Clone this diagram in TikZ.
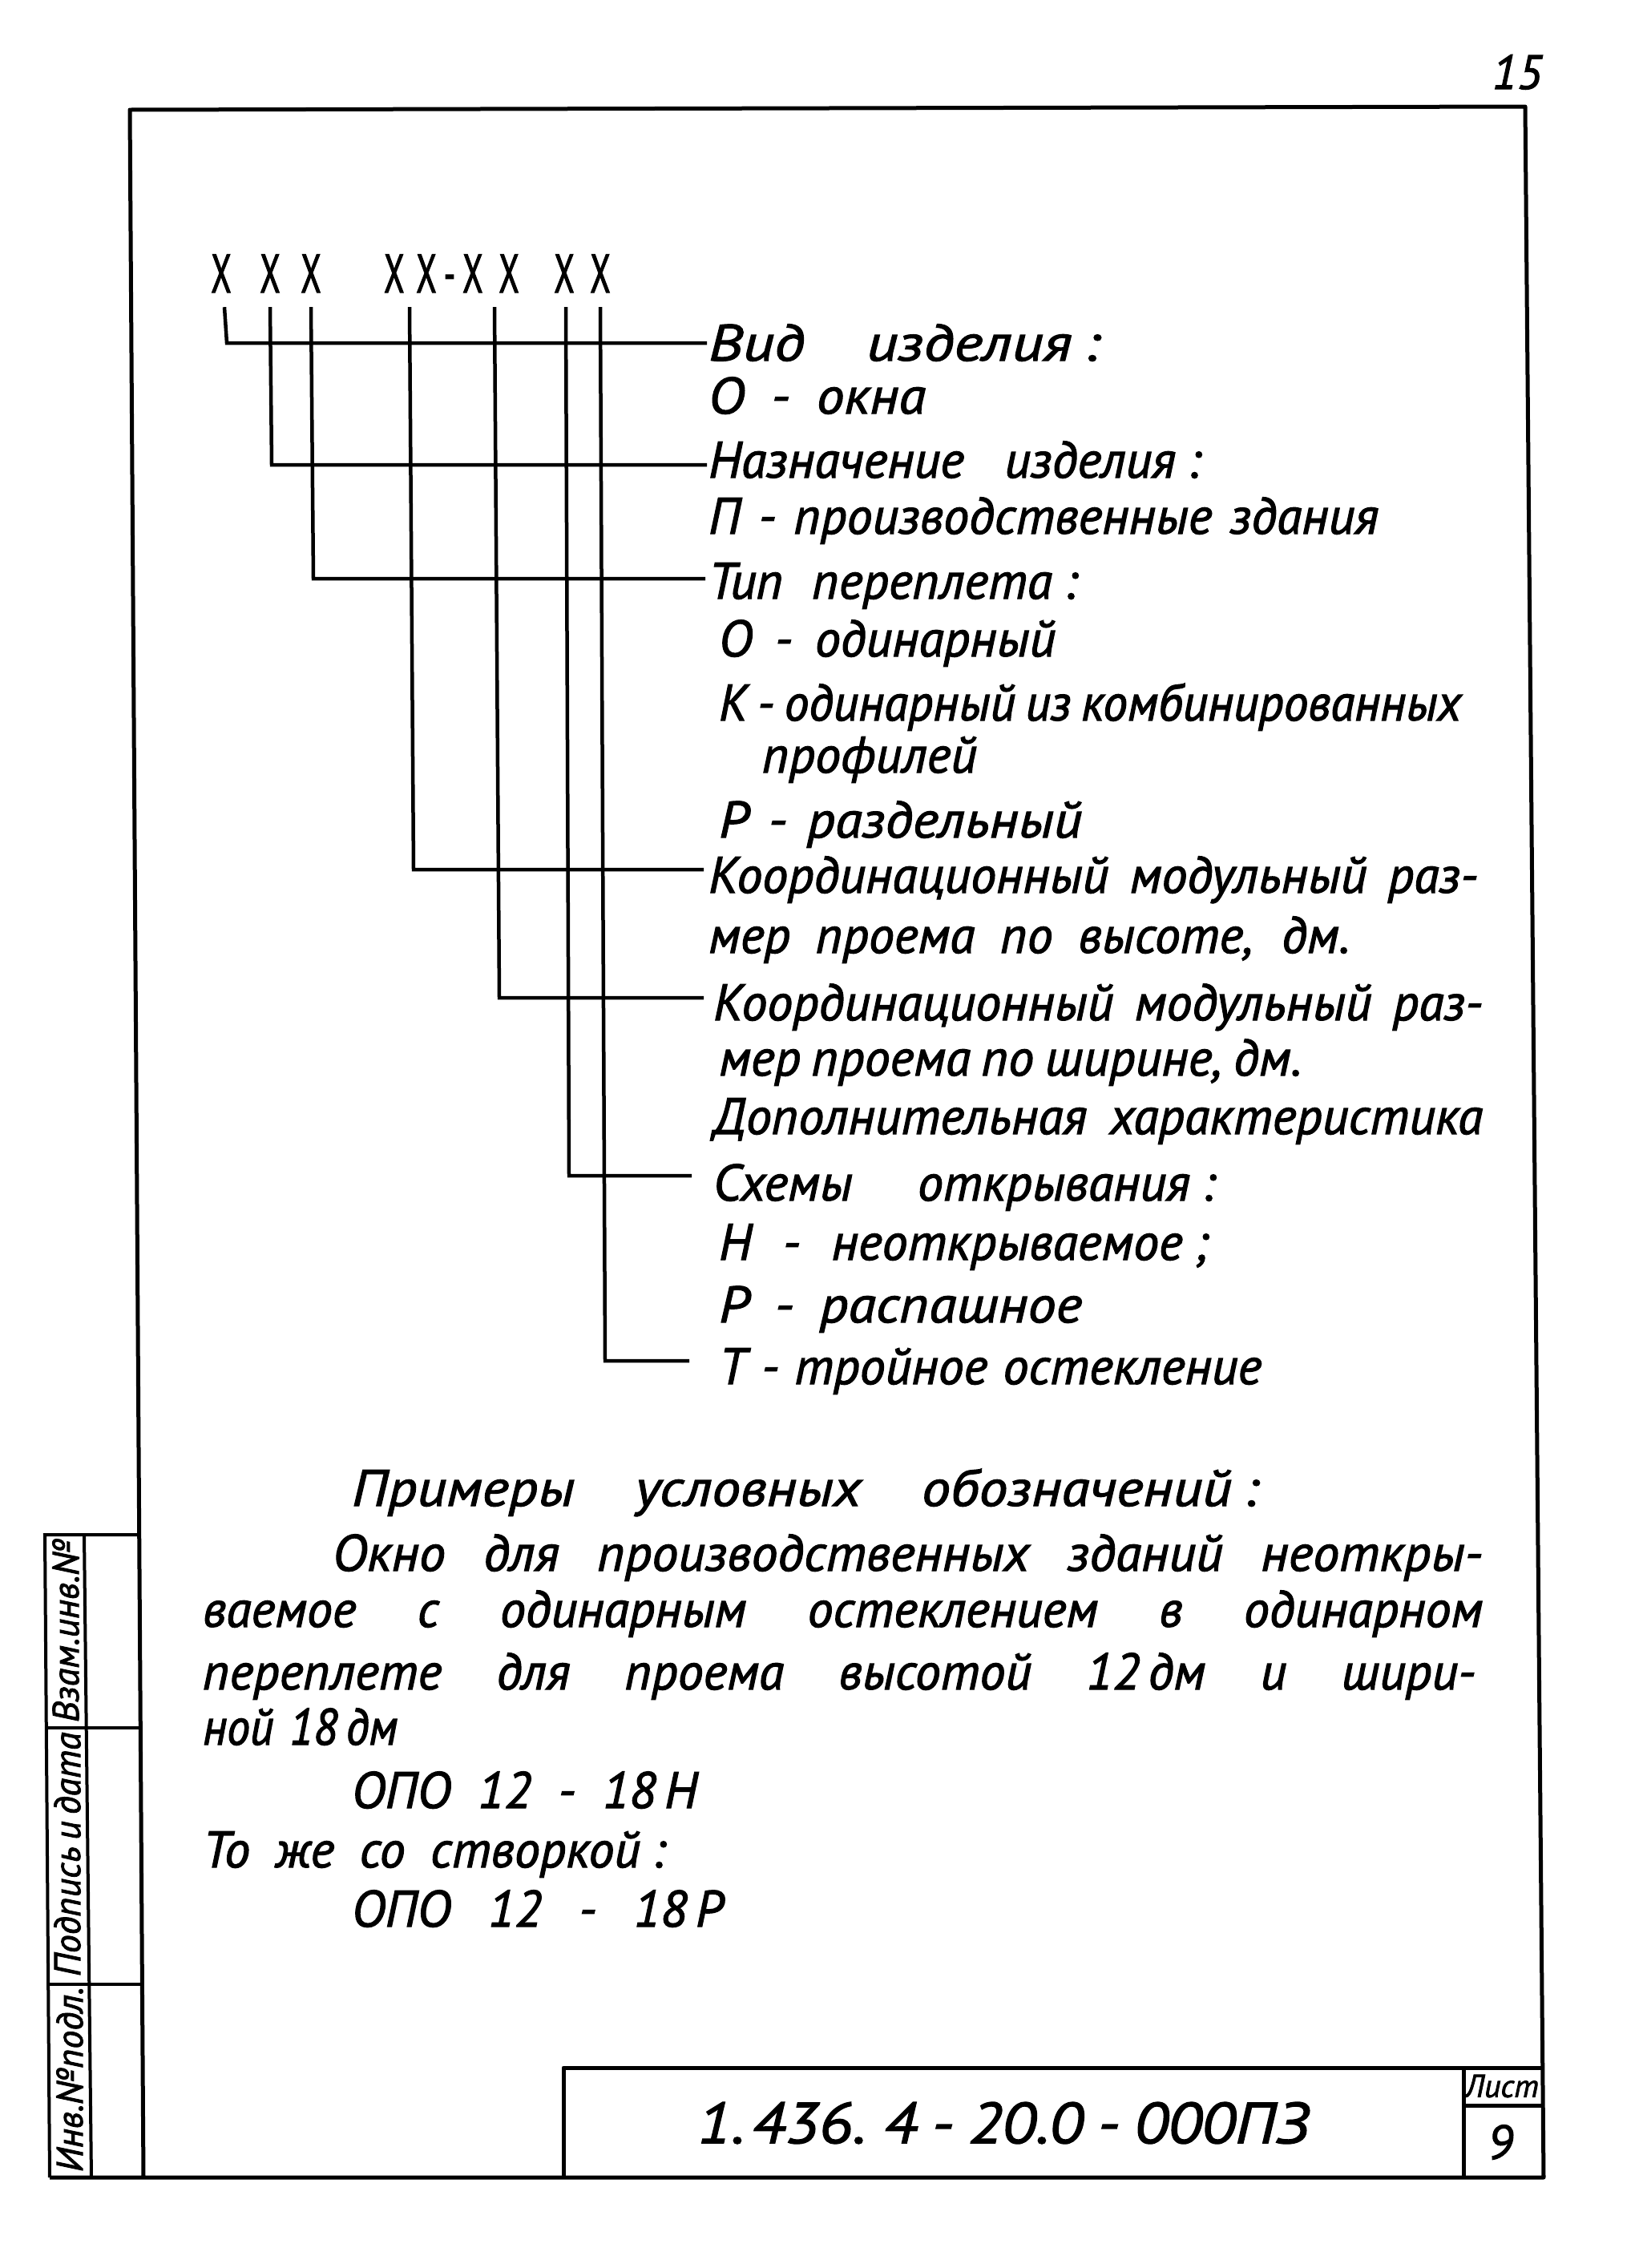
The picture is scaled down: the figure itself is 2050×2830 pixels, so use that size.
\documentclass[tikz,border=0pt]{standalone}
\usepackage{fontspec}
\setmainfont{PT Sans}[ItalicFeatures={FakeBold=1.8}]
\newfontfamily\xfont{PT Sans}[FakeStretch=0.6,FakeBold=1.5]
\newcommand\fs{\hspace{0.22em}}
\begin{document}
\begin{tikzpicture}[x=1pt,y=-1pt,
  frameline/.style={line width=5pt,line join=round},
  leader/.style={line width=4.5pt,line join=miter},
  thinbox/.style={line width=4pt},
  txt/.style={anchor=base west,inner sep=0pt,font=\fontsize{64}{70}\selectfont\itshape},
  xch/.style={anchor=base,inner sep=0pt,font=\fontsize{68}{70}\xfont},
  stamp/.style={inner sep=0pt,rotate=90,font=\fontsize{46}{48}\selectfont\itshape}]
\newcommand\tline[6][1]{\node[txt] (#2) at (#3,#4) {\addfontfeatures{FakeStretch=#1}\makebox[#5pt][s]{#6}};}
\useasboundingbox (0,0) rectangle (2050,2830);
\fill[white] (0,0) rectangle (2050,2830);
% page number
\node[inner sep=0pt,font=\fontsize{60}{64}\selectfont\itshape] (pg) at (1893,90) {15};
% frame
\draw[frameline] (179,2717) -- (162,137) -- (1903,133) -- (1926,2717) -- (62,2717);
% side stamp
\draw[thinbox] (175,1915) -- (56,1915) -- (62,2717);
\draw[thinbox] (105,1915) -- (114,2717);
\draw[thinbox] (57,2156) -- (177,2156);
\draw[thinbox] (59,2476) -- (178,2476);
\node[stamp] (s1) at (82,2035) {\makebox[228pt][s]{Взам.инв.№}};
\node[stamp] (s2) at (84,2316) {\makebox[300pt][s]{Подпись и дата}};
\node[stamp] (s3) at (87,2596) {\makebox[228pt][s]{Инв.№подл.}};
% title block
\draw[frameline] (703,2717) -- (703,2580) -- (1926,2580);
\draw[frameline] (1826,2580) -- (1826,2717);
\draw[frameline] (1826,2627) -- (1926,2627);
\node[inner sep=0pt,font=\fontsize{72}{74}\selectfont\itshape] (code) at (1252,2649) {\addfontfeatures{FakeStretch=1.12}\makebox[763pt][s]{1.\hspace{0.12em}436.\hspace{0.3em}4 - 20.0 - 000ПЗ}};
\node[inner sep=0pt,font=\fontsize{40}{42}\selectfont\itshape] (list) at (1874,2603) {Лист};
\node[inner sep=0pt,font=\fontsize{60}{62}\selectfont\itshape] (num) at (1872,2673) {9};
% designation code
\foreach \n/\xx in {1/276,2/337,3/388,8/704,9/749}
  \node[xch] (x\n) at (\xx,365) {X};
\node[xch,anchor=base west] (g2) at (479,365) {X\hspace{15pt}X\hspace{9pt}-\hspace{9pt}X\hspace{20pt}X};
% texts
\tline[1.2]{t1}{884}{450}{488}{Вид  изделия\fs:}
\tline[1.08]{t2}{884}{516}{271}{О - окна}
\tline{t3}{884}{596}{614}{Назначение  изделия\fs:}
\tline{t4}{884}{666}{836}{П - производственные  здания}
\tline{t5}{884}{747}{460}{Тип  переплета\fs:}
\tline{t6}{897}{819}{420}{О - одинарный}
\tline[0.96]{t7}{897}{899}{926}{К - одинарный из комбинированных}
\tline{t8}{951}{964}{235}{профилей}
\tline[1.08]{t9}{897}{1045}{453}{Р - раздельный}
\tline{t10}{884}{1114}{960}{Координационный  модульный раз-}
\tline{t11}{884}{1189}{800}{мер проема по высоте, дм.}
\tline{t12}{890}{1273}{960}{Координационный модульный раз-}
\tline{t13}{897}{1342}{727}{мер  проема  по  ширине, дм.}
\tline{t14}{890}{1415}{960}{Дополнительная характеристика}
\tline{t15}{890}{1498}{626}{Схемы  открывания\fs:}
\tline{t16}{897}{1572}{610}{Н - неоткрываемое\fs;}
\tline[1.1]{t17}{897}{1650}{453}{Р - распашное}
\tline{t18}{897}{1727}{677}{Т - тройное остекление}
% leader ends
\coordinate (e1) at (882,428);
\coordinate (e2) at (882,580);
\coordinate (e3) at (880,722);
\coordinate (e4) at (878,1085);
\coordinate (e5) at (878,1245);
\coordinate (e6) at (863,1467);
\coordinate (e7) at (860,1698);
\draw[leader] (x1.south) ++(4,18) -- (283,428) -- (e1);
\draw[leader] (x2.south) ++(0,18) -- (339,580) -- (e2);
\draw[leader] (x3.south) ++(0,18) -- (391,722) -- (e3);
\draw[leader] (g2.south west) ++(32,18) -- (516,1085) -- (e4);
\draw[leader] (g2.south west) ++(138,18) -- (623,1245) -- (e5);
\draw[leader] (x8.south) ++(2,18) -- (710,1467) -- (e6);
\draw[leader] (x9.south) ++(0,18) -- (755,1698) -- (e7);
% examples
\tline[1.12]{p1}{439}{1879}{1131}{Примеры   условных   обозначений\fs:}
\tline[1.03]{p2}{415}{1960}{1435}{Окно  для  производственных  зданий  неоткры-}
\tline{p3}{253}{2030}{1597}{ваемое  с  одинарным  остеклением  в  одинарном}
\tline{p4}{253}{2108}{1588}{переплете  для   проема   высотой   12\,дм  и  шири-}
\tline[0.9]{p5}{253}{2177}{243}{ной   18\,дм}
\tline{p6}{439}{2256}{431}{ОПО   12 - 18\,Н}
\tline{p7}{253}{2330}{577}{То  же  со  створкой\fs:}
\tline{p8}{439}{2404}{463}{ОПО   12 - 18\,Р}
\end{tikzpicture}
\end{document}
